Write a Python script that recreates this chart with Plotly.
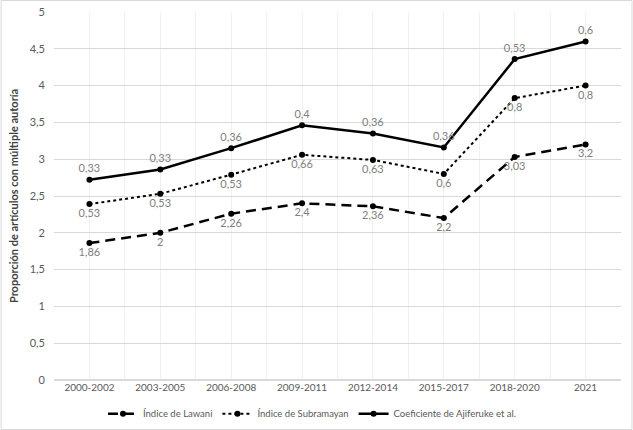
import plotly.graph_objects as go

categories = ["2000-2002", "2003-2005", "2006-2008", "2009-2011", "2012-2014", "2015-2017", "2018-2020", "2021"]
lawani = [1.86, 2, 2.26, 2.4, 2.36, 2.2, 3.03, 3.2]
subramayan = [0.53, 0.53, 0.53, 0.66, 0.63, 0.6, 0.8, 0.8]
ajiferuke = [0.33, 0.33, 0.36, 0.4, 0.36, 0.36, 0.53, 0.6]
y_ticks = [0, 0.5, 1, 1.5, 2, 2.5, 3, 3.5, 4, 4.5, 5]

def fmt(v):
    return ("%g" % v).replace(".", ",")

W, H = 633, 430
L, R, T, B = 53.5, 11.5, 12, 50

x = list(range(len(categories)))
label_font = dict(family="Lato, Open Sans, sans-serif", size=11, color="#808080")

fig = go.Figure()
series = [
    ("Índice de Lawani", lawani, "10px,6px", 2.5, "bottom center"),
    ("Índice de Subramayan", subramayan, "dot", 2, "bottom center"),
    ("Coeficiente de Ajiferuke et al.", ajiferuke, "solid", 2.5, "top center"),
]
for name, vals, dash, w, tp in series:
    fig.add_trace(go.Scatter(
        x=x, y=vals, name=name, stackgroup="one", fill="none",
        mode="lines+markers+text",
        line=dict(color="black", width=w, dash=dash),
        marker=dict(color="black", size=6),
        text=[fmt(v) for v in vals], textposition=tp, textfont=label_font,
        cliponaxis=False,
    ))

pw = W - L - R
ph = H - T - B
fig.add_shape(type="rect", xref="paper", yref="paper",
              x0=-(L - 0.5) / pw, x1=1 + (R - 0.5) / pw,
              y0=-(B - 0.5) / ph, y1=1 + (T - 0.5) / ph,
              line=dict(color="#d9d9d9", width=1), fillcolor="rgba(0,0,0,0)", layer="below")

fig.update_layout(
    width=W, height=H, autosize=False,
    margin=dict(l=L, r=R, t=T, b=B, pad=0, autoexpand=False),
    paper_bgcolor="white", plot_bgcolor="white",
    font=dict(family="Lato, Open Sans, sans-serif", size=11, color="#595959"),
    showlegend=True,
    legend=dict(orientation="h", x=0.455, xanchor="center", y=-0.052, yanchor="top",
                font=dict(size=9.5, color="#595959"), tracegroupgap=0),
    xaxis=dict(
        range=[-0.5, len(categories) - 0.5], automargin=False,
        tickmode="array", tickvals=x, ticktext=categories,
        showgrid=True, gridcolor="#f0f0f0", gridwidth=1,
        minor=dict(tickmode="linear", tick0=-0.5, dtick=1, showgrid=True, gridcolor="#f0f0f0"),
        zeroline=False, showline=False, ticks="",
        tickfont=dict(size=10, color="#595959"),
        fixedrange=True,
    ),
    yaxis=dict(
        range=[0, 5], tickmode="array", tickvals=y_ticks, automargin=False,
        ticktext=[fmt(v) for v in y_ticks],
        showgrid=True, gridcolor="#d9d9d9", gridwidth=1,
        zeroline=True, zerolinecolor="#d9d9d9", showline=False, ticks="",
        ticklabelstandoff=8,
        tickfont=dict(size=11, color="#595959"),
        title=dict(text="<b>Proporción de artículos con múltiple autoría</b>",
                   font=dict(size=11, color="#404040"), standoff=8),
        fixedrange=True,
    ),
)

fig.write_html("out.html", config={"displayModeBar": False},
               post_script="document.body.style.margin='0';")
